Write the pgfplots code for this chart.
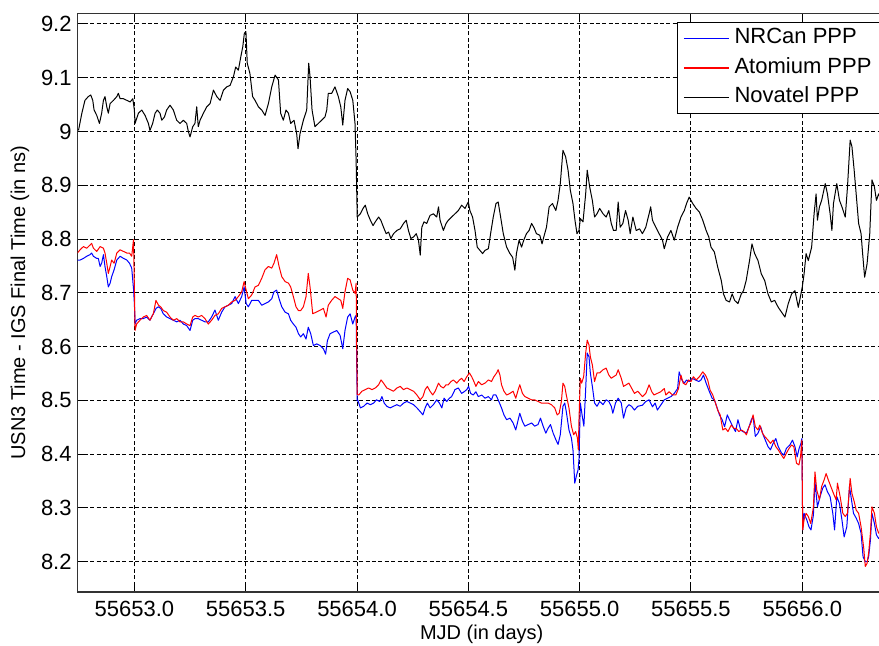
\documentclass[border=0pt]{standalone}
\usepackage{fontspec}
\setmainfont{Liberation Sans}
\usepackage{pgfplots}
\pgfplotsset{compat=1.18}

% x values are days after MJD 55652 (tick labels give the full MJD)
\pgfplotstableread{
0.744 8.761
0.756 8.761
0.771 8.764
0.786 8.768
0.801 8.771
0.808 8.774
0.816 8.768
0.831 8.764
0.838 8.764
0.846 8.749
0.853 8.755
0.861 8.771
0.868 8.749
0.876 8.730
0.883 8.711
0.891 8.718
0.898 8.730
0.909 8.743
0.921 8.761
0.936 8.768
0.951 8.764
0.966 8.761
0.978 8.755
0.988 8.746
0.996 8.708
1.000 8.680
1.003 8.642
1.010 8.649
1.025 8.652
1.040 8.652
1.055 8.655
1.070 8.649
1.085 8.661
1.097 8.671
1.108 8.674
1.118 8.671
1.130 8.661
1.145 8.655
1.160 8.652
1.175 8.649
1.190 8.646
1.205 8.649
1.220 8.642
1.235 8.639
1.250 8.630
1.262 8.649
1.272 8.652
1.287 8.652
1.302 8.649
1.317 8.646
1.332 8.646
1.347 8.655
1.362 8.668
1.377 8.649
1.392 8.664
1.407 8.674
1.422 8.677
1.437 8.680
1.452 8.693
1.467 8.680
1.482 8.693
1.493 8.711
1.502 8.680
1.512 8.674
1.527 8.686
1.542 8.686
1.557 8.686
1.572 8.677
1.587 8.680
1.602 8.683
1.617 8.689
1.627 8.702
1.639 8.705
1.650 8.689
1.662 8.674
1.677 8.664
1.692 8.661
1.702 8.649
1.714 8.642
1.726 8.636
1.737 8.624
1.747 8.618
1.759 8.624
1.771 8.614
1.781 8.636
1.792 8.624
1.804 8.602
1.819 8.605
1.834 8.602
1.849 8.596
1.859 8.586
1.867 8.611
1.879 8.624
1.894 8.627
1.909 8.630
1.924 8.621
1.936 8.596
1.946 8.630
1.958 8.655
1.969 8.661
1.981 8.642
1.991 8.655
1.996 8.658
1.999 8.555
2.001 8.499
2.003 8.501
2.015 8.486
2.030 8.489
2.045 8.495
2.060 8.492
2.075 8.495
2.087 8.501
2.102 8.498
2.112 8.507
2.122 8.495
2.134 8.489
2.149 8.486
2.164 8.489
2.179 8.492
2.194 8.489
2.209 8.495
2.224 8.498
2.239 8.495
2.254 8.492
2.269 8.486
2.284 8.479
2.296 8.473
2.306 8.486
2.316 8.495
2.328 8.486
2.343 8.492
2.358 8.501
2.370 8.495
2.381 8.486
2.391 8.504
2.403 8.498
2.415 8.504
2.425 8.507
2.440 8.520
2.455 8.523
2.470 8.513
2.481 8.516
2.493 8.520
2.501 8.526
2.510 8.513
2.522 8.510
2.534 8.516
2.545 8.507
2.560 8.510
2.575 8.504
2.590 8.507
2.604 8.501
2.612 8.510
2.624 8.510
2.634 8.501
2.649 8.486
2.660 8.473
2.672 8.464
2.687 8.467
2.701 8.458
2.713 8.445
2.724 8.464
2.731 8.476
2.743 8.461
2.754 8.452
2.769 8.455
2.784 8.458
2.798 8.452
2.813 8.455
2.824 8.467
2.836 8.452
2.848 8.439
2.858 8.448
2.869 8.455
2.881 8.439
2.893 8.427
2.903 8.418
2.913 8.436
2.925 8.489
2.933 8.495
2.940 8.479
2.952 8.445
2.963 8.430
2.970 8.408
2.978 8.346
2.985 8.359
2.993 8.371
2.997 8.390
3.003 8.495
3.012 8.470
3.019 8.452
3.027 8.520
3.034 8.588
3.042 8.581
3.048 8.551
3.057 8.526
3.067 8.495
3.078 8.489
3.090 8.498
3.105 8.492
3.119 8.501
3.131 8.498
3.142 8.489
3.149 8.476
3.161 8.495
3.173 8.504
3.187 8.495
3.197 8.467
3.209 8.486
3.221 8.492
3.233 8.489
3.246 8.482
3.261 8.489
3.282 8.491
3.297 8.498
3.312 8.501
3.327 8.488
3.339 8.495
3.349 8.482
3.364 8.491
3.380 8.501
3.395 8.504
3.410 8.507
3.425 8.513
3.440 8.522
3.447 8.553
3.459 8.538
3.470 8.532
3.480 8.538
3.492 8.535
3.505 8.541
3.520 8.538
3.535 8.535
3.545 8.538
3.556 8.547
3.568 8.532
3.583 8.516
3.595 8.504
3.605 8.501
3.616 8.488
3.628 8.473
3.640 8.464
3.651 8.451
3.663 8.473
3.673 8.464
3.688 8.451
3.700 8.442
3.711 8.464
3.723 8.445
3.733 8.442
3.749 8.439
3.761 8.451
3.771 8.464
3.779 8.470
3.789 8.433
3.801 8.439
3.813 8.451
3.824 8.436
3.834 8.426
3.846 8.414
3.857 8.408
3.869 8.420
3.881 8.429
3.892 8.414
3.907 8.402
3.917 8.398
3.929 8.411
3.944 8.417
3.956 8.426
3.967 8.414
3.977 8.395
3.986 8.411
3.994 8.420
3.998 8.429
4.002 8.259
4.008 8.290
4.020 8.278
4.030 8.265
4.039 8.259
4.050 8.287
4.057 8.349
4.068 8.302
4.080 8.321
4.092 8.337
4.102 8.343
4.113 8.330
4.125 8.321
4.137 8.290
4.145 8.259
4.155 8.321
4.167 8.308
4.178 8.278
4.188 8.246
4.200 8.265
4.212 8.340
4.221 8.315
4.230 8.290
4.242 8.281
4.253 8.271
4.264 8.253
4.273 8.209
4.283 8.200
4.291 8.200
4.298 8.209
4.306 8.240
4.313 8.290
4.324 8.271
4.333 8.250
4.343 8.243
4.355 8.250
4.372 8.240
}\nrcan

\pgfplotstableread{
0.744 8.774
0.756 8.780
0.771 8.786
0.786 8.783
0.801 8.789
0.808 8.792
0.816 8.783
0.831 8.777
0.846 8.786
0.861 8.783
0.868 8.774
0.876 8.755
0.883 8.736
0.891 8.749
0.898 8.761
0.909 8.755
0.921 8.774
0.936 8.780
0.951 8.777
0.966 8.774
0.978 8.774
0.988 8.768
0.996 8.799
1.000 8.711
1.003 8.630
1.010 8.642
1.025 8.649
1.040 8.655
1.055 8.658
1.070 8.649
1.085 8.661
1.097 8.686
1.108 8.677
1.118 8.674
1.130 8.667
1.145 8.664
1.160 8.655
1.175 8.649
1.190 8.652
1.205 8.646
1.220 8.646
1.235 8.642
1.250 8.639
1.262 8.655
1.272 8.658
1.287 8.655
1.302 8.658
1.317 8.652
1.332 8.642
1.347 8.649
1.362 8.658
1.377 8.661
1.392 8.671
1.407 8.674
1.422 8.677
1.437 8.683
1.452 8.686
1.467 8.693
1.482 8.702
1.493 8.721
1.502 8.705
1.512 8.689
1.527 8.696
1.542 8.711
1.557 8.714
1.572 8.727
1.587 8.743
1.602 8.749
1.617 8.746
1.627 8.755
1.639 8.771
1.650 8.749
1.662 8.730
1.677 8.721
1.692 8.718
1.702 8.711
1.714 8.693
1.726 8.674
1.737 8.667
1.747 8.667
1.759 8.674
1.771 8.693
1.781 8.736
1.789 8.711
1.801 8.661
1.816 8.664
1.831 8.667
1.849 8.671
1.861 8.655
1.871 8.677
1.886 8.686
1.901 8.693
1.916 8.689
1.927 8.686
1.936 8.671
1.946 8.702
1.958 8.727
1.969 8.724
1.981 8.705
1.991 8.699
1.996 8.718
1.999 8.586
2.001 8.511
2.008 8.510
2.022 8.517
2.037 8.520
2.052 8.523
2.067 8.520
2.082 8.523
2.097 8.529
2.108 8.538
2.119 8.532
2.134 8.523
2.149 8.520
2.164 8.517
2.179 8.523
2.194 8.526
2.209 8.520
2.224 8.523
2.239 8.520
2.254 8.517
2.269 8.510
2.284 8.501
2.296 8.507
2.306 8.520
2.316 8.526
2.328 8.517
2.340 8.510
2.351 8.517
2.366 8.532
2.376 8.526
2.388 8.523
2.400 8.529
2.410 8.529
2.422 8.535
2.433 8.538
2.448 8.532
2.460 8.538
2.470 8.541
2.481 8.535
2.493 8.544
2.505 8.551
2.515 8.544
2.522 8.538
2.534 8.526
2.545 8.535
2.560 8.529
2.575 8.532
2.590 8.538
2.604 8.535
2.615 8.544
2.627 8.551
2.634 8.557
2.642 8.547
2.649 8.529
2.660 8.517
2.672 8.510
2.687 8.513
2.701 8.517
2.713 8.504
2.724 8.520
2.731 8.529
2.743 8.513
2.754 8.507
2.769 8.504
2.784 8.501
2.798 8.501
2.813 8.498
2.828 8.495
2.843 8.495
2.858 8.495
2.873 8.492
2.888 8.486
2.899 8.473
2.908 8.476
2.918 8.498
2.925 8.532
2.933 8.526
2.940 8.510
2.952 8.486
2.963 8.452
2.973 8.436
2.982 8.442
2.990 8.430
2.994 8.408
2.997 8.464
3.003 8.541
3.009 8.532
3.018 8.544
3.027 8.588
3.034 8.612
3.042 8.603
3.048 8.581
3.057 8.566
3.067 8.535
3.078 8.551
3.090 8.551
3.105 8.557
3.119 8.560
3.131 8.547
3.142 8.541
3.152 8.544
3.164 8.547
3.173 8.557
3.187 8.541
3.197 8.526
3.209 8.529
3.221 8.532
3.233 8.523
3.246 8.513
3.261 8.517
3.282 8.507
3.297 8.513
3.312 8.529
3.324 8.516
3.334 8.510
3.349 8.513
3.364 8.516
3.380 8.522
3.387 8.510
3.402 8.516
3.417 8.510
3.432 8.510
3.444 8.522
3.455 8.547
3.465 8.532
3.477 8.529
3.489 8.538
3.500 8.535
3.511 8.544
3.523 8.538
3.538 8.544
3.553 8.553
3.565 8.547
3.575 8.538
3.586 8.519
3.598 8.510
3.610 8.495
3.620 8.482
3.631 8.473
3.643 8.445
3.655 8.448
3.666 8.442
3.681 8.454
3.693 8.448
3.703 8.448
3.715 8.442
3.726 8.445
3.738 8.442
3.749 8.436
3.761 8.451
3.771 8.460
3.779 8.473
3.789 8.451
3.801 8.445
3.809 8.454
3.821 8.439
3.831 8.433
3.846 8.426
3.857 8.420
3.869 8.426
3.881 8.414
3.892 8.408
3.907 8.398
3.917 8.392
3.929 8.402
3.941 8.411
3.952 8.417
3.962 8.414
3.974 8.383
3.985 8.380
3.992 8.395
3.998 8.426
4.002 8.259
4.008 8.278
4.017 8.290
4.027 8.284
4.038 8.271
4.050 8.302
4.057 8.367
4.065 8.333
4.077 8.315
4.087 8.340
4.098 8.352
4.107 8.364
4.117 8.352
4.128 8.340
4.140 8.327
4.152 8.315
4.158 8.346
4.170 8.321
4.182 8.290
4.193 8.284
4.203 8.290
4.215 8.355
4.223 8.327
4.233 8.312
4.242 8.296
4.253 8.290
4.264 8.265
4.276 8.225
4.283 8.191
4.291 8.197
4.298 8.216
4.306 8.253
4.313 8.302
4.324 8.290
4.333 8.265
4.343 8.253
4.355 8.260
4.372 8.250
}\atomium

\pgfplotstableread{
0.749 9.002
0.764 9.034
0.778 9.058
0.793 9.065
0.804 9.068
0.813 9.058
0.819 9.040
0.831 9.030
0.843 9.015
0.853 9.034
0.861 9.058
0.868 9.065
0.876 9.046
0.883 9.034
0.891 9.052
0.906 9.058
0.921 9.065
0.928 9.071
0.936 9.061
0.951 9.061
0.966 9.058
0.981 9.055
0.993 9.061
1.000 9.040
1.003 9.015
1.018 9.034
1.033 9.040
1.048 9.030
1.063 9.015
1.070 9.002
1.082 9.015
1.093 9.034
1.103 9.040
1.115 9.034
1.123 9.021
1.135 9.027
1.145 9.040
1.160 9.049
1.175 9.040
1.190 9.021
1.205 9.015
1.220 9.021
1.235 9.015
1.243 8.999
1.250 8.990
1.262 9.009
1.272 9.015
1.280 9.046
1.287 9.009
1.295 9.021
1.310 9.034
1.325 9.046
1.340 9.052
1.355 9.077
1.370 9.065
1.385 9.058
1.400 9.077
1.415 9.083
1.430 9.086
1.445 9.102
1.455 9.120
1.467 9.114
1.478 9.139
1.487 9.158
1.494 9.183
1.501 9.186
1.507 9.127
1.519 9.108
1.531 9.065
1.542 9.058
1.557 9.046
1.572 9.040
1.587 9.030
1.602 9.052
1.617 9.083
1.632 9.105
1.647 9.096
1.657 9.034
1.669 9.021
1.681 9.040
1.692 9.034
1.702 9.015
1.717 9.021
1.729 8.996
1.735 8.968
1.744 8.996
1.759 9.021
1.774 9.040
1.783 9.127
1.789 9.102
1.798 9.040
1.811 9.009
1.826 9.015
1.841 9.021
1.856 9.027
1.864 9.040
1.871 9.071
1.886 9.071
1.901 9.083
1.916 9.065
1.927 9.046
1.936 9.012
1.946 9.058
1.958 9.080
1.969 9.074
1.981 9.058
1.991 9.015
1.996 8.946
2.001 8.841
2.015 8.847
2.027 8.857
2.037 8.863
2.048 8.847
2.060 8.835
2.072 8.825
2.082 8.832
2.097 8.841
2.107 8.835
2.119 8.822
2.131 8.810
2.142 8.813
2.152 8.801
2.164 8.810
2.179 8.816
2.194 8.819
2.209 8.829
2.221 8.835
2.231 8.816
2.242 8.801
2.254 8.804
2.266 8.810
2.276 8.798
2.284 8.770
2.291 8.822
2.301 8.832
2.313 8.829
2.328 8.844
2.343 8.847
2.358 8.841
2.366 8.860
2.373 8.835
2.388 8.816
2.400 8.829
2.410 8.835
2.425 8.841
2.440 8.847
2.455 8.853
2.470 8.863
2.485 8.857
2.500 8.869
2.507 8.853
2.519 8.841
2.530 8.816
2.540 8.785
2.552 8.779
2.564 8.773
2.575 8.779
2.590 8.782
2.600 8.810
2.612 8.841
2.624 8.866
2.634 8.869
2.645 8.841
2.657 8.810
2.672 8.785
2.687 8.773
2.699 8.766
2.709 8.742
2.716 8.773
2.728 8.798
2.739 8.785
2.749 8.798
2.761 8.810
2.773 8.816
2.784 8.829
2.794 8.822
2.806 8.810
2.821 8.807
2.831 8.791
2.839 8.804
2.851 8.822
2.863 8.860
2.878 8.866
2.893 8.853
2.903 8.872
2.913 8.903
2.925 8.965
2.937 8.953
2.948 8.928
2.958 8.891
2.970 8.866
2.979 8.835
2.988 8.810
2.997 8.816
3.003 8.838
3.015 8.832
3.027 8.884
3.034 8.928
3.045 8.897
3.057 8.872
3.067 8.841
3.078 8.847
3.090 8.857
3.105 8.847
3.119 8.841
3.131 8.853
3.142 8.829
3.152 8.816
3.164 8.816
3.173 8.869
3.182 8.822
3.194 8.829
3.206 8.853
3.218 8.835
3.227 8.810
3.239 8.841
3.254 8.816
3.269 8.819
3.282 8.810
3.297 8.822
3.312 8.847
3.319 8.860
3.327 8.835
3.342 8.822
3.357 8.810
3.372 8.798
3.380 8.782
3.395 8.804
3.410 8.816
3.425 8.798
3.440 8.822
3.455 8.841
3.470 8.853
3.480 8.866
3.492 8.878
3.508 8.866
3.523 8.857
3.538 8.850
3.553 8.835
3.568 8.816
3.580 8.804
3.590 8.785
3.605 8.776
3.620 8.748
3.636 8.723
3.646 8.698
3.658 8.686
3.673 8.683
3.685 8.698
3.696 8.686
3.711 8.680
3.726 8.698
3.736 8.704
3.748 8.723
3.763 8.760
3.774 8.791
3.786 8.773
3.801 8.760
3.816 8.735
3.831 8.723
3.846 8.698
3.861 8.683
3.876 8.686
3.892 8.673
3.907 8.664
3.922 8.655
3.937 8.680
3.952 8.698
3.967 8.704
3.982 8.673
3.994 8.698
4.000 8.711
4.008 8.735
4.017 8.773
4.027 8.760
4.042 8.785
4.053 8.847
4.062 8.884
4.068 8.835
4.077 8.860
4.087 8.872
4.103 8.903
4.113 8.884
4.125 8.847
4.133 8.816
4.140 8.866
4.155 8.903
4.167 8.872
4.178 8.860
4.193 8.841
4.203 8.897
4.215 8.984
4.223 8.972
4.233 8.928
4.242 8.884
4.253 8.829
4.264 8.810
4.271 8.773
4.280 8.729
4.291 8.754
4.303 8.810
4.313 8.910
4.324 8.897
4.333 8.872
4.343 8.884
4.356 8.870
4.372 8.880
}\novatel

\begin{document}
\begin{tikzpicture}
\begin{axis}[
  at={(0pt,0pt)}, anchor=south west,
  scale only axis,
  width=404.25pt, height=289.35pt,
  xmin=0.7445, xmax=4.376,
  ymin=8.1436, ymax=9.2199,
  xtick={1,1.5,2,2.5,3,3.5,4},
  xticklabels={55653.0,55653.5,55654.0,55654.5,55655.0,55655.5,55656.0},
  ytick={8.2,8.3,8.4,8.5,8.6,8.7,8.8,8.9,9,9.1,9.2},
  /pgf/number format/assume math mode=true,
  grid=major,
  major grid style={black, line width=0.5pt, dash pattern=on 2pt off 1.2pt},
  axis line style={black!80, line width=0.6pt},
  tick align=inside,
  major tick length=3pt,
  tick style={black, line width=0.5pt},
  tick label style={font=\fontsize{11}{13}\selectfont},
  xticklabel style={anchor=base, yshift=-12.5pt, inner sep=0pt},
  yticklabel style={anchor=east, xshift=-2.75pt, inner sep=0pt},
  label style={font=\fontsize{11}{13}\selectfont},
  xlabel={MJD (in days)},
  ylabel={USN3 Time - IGS Final Time (in ns)},
  every axis x label/.style={at={(axis description cs:0.5,0)}, anchor=center, yshift=-21pt},
  every axis y label/.style={at={(axis description cs:0,0.5)}, anchor=center, xshift=-28.75pt, rotate=90},
  legend cell align=left,
  legend image code/.code={\draw[#1, line width=0.75pt] (0pt,0pt) -- (22.5pt,0pt);},
  legend style={at={(axis description cs:1,1)}, anchor=north east,
    xshift=-3pt, yshift=-4.2pt,
    draw=black, line width=0.5pt, fill=white,
    font=\fontsize{11}{13}\selectfont,
    inner xsep=3pt, inner ysep=1.8pt,
    row sep=2.25pt, column sep=1.5pt,
    nodes={inner sep=1pt, text height=8pt, text depth=2.5pt}},
]
\addplot[draw=blue, line width=0.5pt, line join=round] table {\nrcan};
\addlegendentry{NRCan PPP}
\addplot[draw=red, line width=0.5pt, line join=round] table {\atomium};
\addlegendentry{Atomium PPP}
\addplot[draw=black, line width=0.5pt, line join=round] table {\novatel};
\addlegendentry{Novatel PPP}
\end{axis}
\pgfresetboundingbox
\path (-38.75pt,-27pt) rectangle (400.75pt,296pt);
\end{tikzpicture}
\end{document}
